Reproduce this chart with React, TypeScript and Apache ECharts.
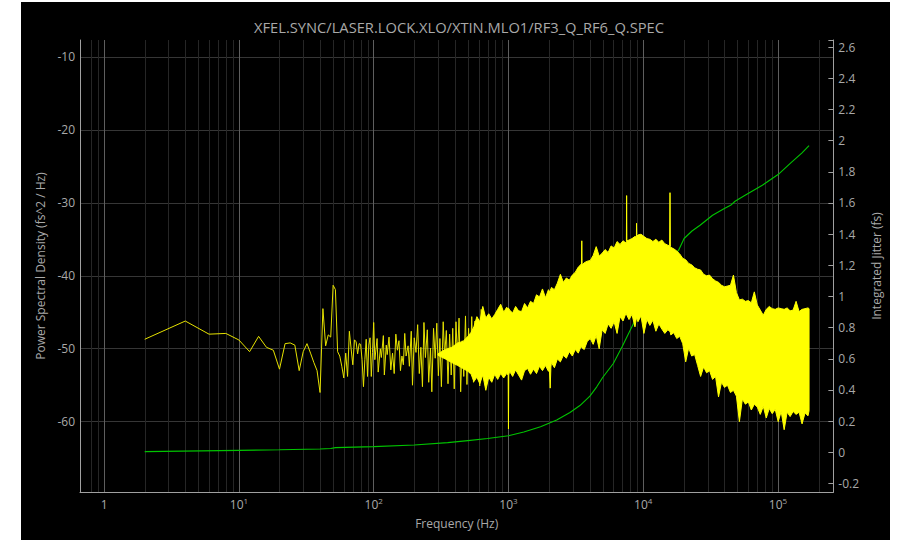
import React, { useEffect, useRef } from 'react';
import * as echarts from 'echarts';

const TITLE = 'XFEL.SYNC/LASER.LOCK.XLO/XTIN.MLO1/RF3_Q_RF6_Q.SPEC';
const X_NAME = 'Frequency (Hz)';
const Y_LEFT_NAME = 'Power Spectral Density (fs^2 / Hz)';
const Y_RIGHT_NAME = 'Integrated Jitter (fs)';

// axis ranges
const X_MIN = 0.662;
const X_MAX = 257500;
const YL_MIN = -69.64;
const YL_MAX = -7.67;
const YR_MIN = -0.255;
const YR_MAX = 2.646;

// PSD, first bins (2 Hz spacing starting at 2 Hz)
const LOW_STEP = 2;
const psdLow = [
  -48.7, -46.2, -48.0, -47.9, -48.8, -50.4, -48.3, -49.8, -50.2, -52.8,
  -49.3, -49.2, -49.5, -53.0, -50.4, -49.3, -50.6, -51.9, -53.0, -56.0,
  -44.5, -49.6, -48.1, -48.4, -41.3, -41.9, -50.4, -51.0, -52.4, -54.0,
  -50.6, -53.8, -47.6, -50.0, -52.2, -48.8, -49.0, -50.7, -49.3, -49.4,
  -51.5, -55.2, -51.5, -48.7, -53.8, -49.5, -48.5, -53.8, -50.5,
];

// PSD, 100 Hz .. 650 Hz (read peaks / dips)
const psdMidFreq = [
  100, 102, 106, 108, 112, 114, 118, 120, 124, 126, 130, 134, 138, 142, 146, 150,
  154, 158, 162, 166, 170, 174, 180, 184, 190, 194, 200, 206, 212, 218, 224, 230,
  236, 242, 250, 256, 264, 270, 278, 286, 294, 302, 310, 318, 328, 336, 346, 356,
  366, 376, 386, 396, 408, 418, 430, 442, 454, 466, 480, 492, 506, 520, 534, 550,
  564, 580, 596, 612, 628, 646,
];
const psdMid = [
  -46.4, -51.5, -48.6, -53.2, -50.0, -51.2, -48.2, -53.6, -49.5, -50.8, -48.4, -52.9, -50.6, -53.4, -48.0, -50.2,
  -48.9, -53.0, -51.0, -52.2, -47.9, -51.0, -49.6, -52.4, -47.6, -55.0, -48.5, -50.5, -46.7, -53.4, -49.8, -55.2,
  -46.4, -51.2, -47.4, -54.6, -49.9, -55.9, -47.2, -51.3, -46.5, -53.7, -48.6, -55.2, -46.3, -51.0, -47.5, -54.8,
  -48.0, -53.6, -47.2, -55.5, -46.3, -51.2, -45.8, -55.9, -48.9, -53.8, -45.5, -54.9, -47.2, -53.4, -45.6, -54.6,
  -46.2, -53.9, -46.0, -55.1, -44.6, -53.8,
];

// PSD dense region: upper and lower envelope
const bandFreq = [
  300, 340, 380, 420, 460, 500,
  526, 554, 583, 613, 645, 679, 714, 752, 791, 832, 876, 922, 970, 995, 1000, 1005,
  1020, 1074, 1130, 1189, 1251, 1317, 1386, 1458, 1534, 1615, 1699, 1788, 1882, 1980, 2010, 2040,
  2065, 2084, 2193, 2307, 2428, 2555, 2689, 2829, 2977, 3133, 3297, 3469, 3480, 3500, 3520, 3651,
  3842, 4043, 4254, 4477, 4711, 4957, 5217, 5489, 5776, 6078, 6396, 6731, 7083, 7453, 7500, 7530,
  7560, 7843, 8253, 8685, 8900, 8920, 8950, 9139, 9617, 10120, 10650, 11207, 11793, 12410, 13059, 13742,
  14460, 15216, 15700, 15800, 15900, 16012, 16849, 17730, 18657, 19633, 20660, 21740, 22877, 24073, 25332, 26657,
  28051, 29518, 31062, 32686, 34396, 36194, 38087, 40079, 42175, 44381, 46702, 49144, 51714, 54418, 57264, 60259,
  63410, 66726, 70215, 73887, 77751, 81817, 86096, 90598, 95336, 100322, 105568, 111089, 116898, 123011, 129444, 136214,
  143337, 150833, 158721, 167021, 170000,
];
const bandHi = [
  -50.7, -50.1, -49.8, -49.2, -49.0, -48.3,
  -47.8, -47.0, -45.6, -46.3, -44.2, -45.8, -45.2, -45.9, -45.3, -44.6, -43.9, -45.0, -44.3, -44.6, -44.4, -44.5,
  -44.7, -45.1, -44.2, -44.8, -44.9, -43.8, -44.4, -43.5, -43.8, -42.6, -42.9, -41.8, -43.0, -41.9, -42.2, -42.0,
  -41.8, -41.6, -41.9, -41.0, -39.8, -40.9, -40.3, -40.6, -39.9, -39.5, -38.8, -38.4, -38.6, -35.2, -38.5, -38.2,
  -38.0, -37.9, -37.2, -36.0, -37.3, -36.9, -36.4, -36.8, -35.9, -36.2, -35.3, -35.7, -35.2, -35.5, -35.3, -29.0,
  -35.2, -35.1, -34.9, -34.6, -34.7, -32.8, -34.6, -34.4, -34.3, -34.6, -34.9, -35.0, -35.3, -35.0, -35.4, -35.1,
  -35.6, -35.8, -35.9, -28.6, -36.0, -36.1, -36.3, -36.6, -37.0, -37.6, -37.8, -38.3, -38.5, -38.9, -39.1, -39.2,
  -39.8, -40.0, -39.9, -40.4, -40.7, -40.9, -41.3, -41.5, -41.4, -41.3, -39.9, -42.3, -43.3, -43.2, -43.5, -43.4,
  -43.7, -42.2, -44.0, -44.7, -45.4, -44.6, -44.2, -44.5, -44.6, -44.4, -44.5, -44.6, -44.4, -44.8, -44.7, -43.5,
  -44.9, -44.6, -44.5, -44.4, -44.5,
];
const bandLo = [
  -50.9, -51.4, -51.9, -52.3, -52.7, -53.1,
  -53.4, -54.5, -53.9, -54.8, -53.6, -55.7, -53.9, -54.6, -53.5, -54.2, -53.4, -54.0, -53.4, -53.6, -61.0, -53.6,
  -53.1, -53.8, -52.9, -53.6, -54.3, -53.0, -52.7, -53.5, -52.8, -53.4, -52.4, -53.0, -52.3, -53.1, -52.6, -55.4,
  -52.5, -51.9, -52.6, -51.4, -51.8, -50.9, -51.3, -50.4, -51.0, -50.1, -50.6, -49.6, -49.8, -49.7, -49.9, -50.1,
  -49.0, -48.6, -49.4, -48.2, -50.0, -47.4, -47.9, -46.6, -47.2, -46.3, -47.9, -45.6, -46.2, -45.1, -45.3, -45.2,
  -45.4, -46.0, -45.3, -47.0, -45.8, -45.7, -45.8, -46.3, -45.5, -47.9, -46.0, -46.8, -46.1, -47.6, -46.6, -47.3,
  -47.9, -47.4, -47.6, -47.7, -47.8, -48.1, -47.8, -48.6, -48.3, -49.3, -51.8, -49.9, -51.0, -50.8, -52.3, -53.8,
  -52.5, -53.3, -53.0, -54.2, -53.8, -56.6, -54.6, -55.3, -55.0, -56.0, -55.7, -56.5, -60.0, -56.9, -57.6, -57.3,
  -58.4, -57.6, -58.0, -59.0, -57.9, -59.5, -58.2, -58.9, -58.3, -60.0, -58.6, -61.1, -58.7, -59.3, -58.6, -59.0,
  -58.7, -60.3, -58.8, -59.2, -58.5,
];

// Integrated jitter (right axis)
const jitterFreq = [
  2, 10, 20, 40, 48, 52, 100, 200, 354, 500, 700, 1000, 1300, 1730, 2280, 2860,
  3390, 4020, 4520, 5000, 6000, 7000, 8500, 10000, 12000, 14000, 16000, 17600, 18300, 20100, 23000, 26400,
  32700, 40000, 44500, 48000, 57000, 76500, 102000, 125000, 150000, 170000,
];
const jitter = [
  0.004, 0.012, 0.016, 0.021, 0.024, 0.030, 0.036, 0.047, 0.062, 0.075, 0.088, 0.106, 0.130, 0.164, 0.207, 0.255,
  0.300, 0.360, 0.420, 0.480, 0.570, 0.680, 0.830, 0.950, 1.080, 1.170, 1.230, 1.280, 1.297, 1.372, 1.420, 1.457,
  1.521, 1.565, 1.585, 1.611, 1.649, 1.714, 1.788, 1.859, 1.920, 1.968,
];

// minor log grid positions
const minorGridFreq = [
  0.8, 0.9,
  2, 3, 4, 5, 6, 7, 8, 9,
  20, 30, 40, 50, 60, 70, 80, 90,
  200, 300, 400, 500, 600, 700, 800, 900,
  2000, 3000, 4000, 5000, 6000, 7000, 8000, 9000,
  20000, 30000, 40000, 50000, 60000, 70000, 80000, 90000,
  200000,
];

const FONT = '"Open Sans", "Noto Sans", sans-serif';
const TXT = '#a9a9a9';
const AXIS_LINE = '#a0a0a0';

export default function App() {
  const ref = useRef<HTMLDivElement>(null);
  useEffect(() => {
    if (!ref.current) return;
    const chart = echarts.init(ref.current, undefined, { renderer: 'svg' });
    const yellowLine = psdLow
      .map((v, i) => [(i + 1) * LOW_STEP, v])
      .concat(psdMidFreq.map((f, i) => [f, psdMid[i]]));
    const option: any = {
      animation: false,
      backgroundColor: '#000000',
      textStyle: { fontFamily: FONT },
      grid: { left: 59, right: 52, top: 38, bottom: 48, containLabel: false },
      graphic: [
        {
          type: 'text',
          x: 438,
          y: 25,
          style: {
            text: TITLE,
            fill: TXT,
            font: `14.7px ${FONT}`,
            textAlign: 'center',
            textVerticalAlign: 'middle',
          },
        },
      ],
      xAxis: {
        type: 'log',
        logBase: 10,
        min: X_MIN,
        max: X_MAX,
        name: X_NAME,
        nameLocation: 'middle',
        nameGap: 25,
        nameTextStyle: { color: TXT, fontSize: 12, fontFamily: FONT },
        axisLine: { show: true, onZero: false, lineStyle: { color: AXIS_LINE, width: 1 } },
        axisTick: { show: false },
        axisLabel: {
          color: TXT,
          fontSize: 12,
          margin: 4,
          fontFamily: FONT,
          showMinLabel: false,
          showMaxLabel: false,
          formatter: (v: number) => {
            const e = Math.log10(v);
            const r = Math.round(e);
            if (Math.abs(e - r) > 1e-6) return '';
            if (r === 0) return '{b|1}';
            return `{b|10}{s|${r}}`;
          },
          rich: {
            b: { color: TXT, fontSize: 12, fontFamily: FONT, lineHeight: 16 },
            s: { color: TXT, fontSize: 8, fontFamily: FONT, verticalAlign: 'top', lineHeight: 10 },
          },
        },
        splitLine: {
          show: true,
          showMinLine: false,
          showMaxLine: false,
          lineStyle: { color: '#5e5e5e', width: 1 },
        },
      },
      yAxis: [
        {
          type: 'value',
          min: YL_MIN,
          max: YL_MAX,
          splitNumber: 5,
          position: 'left',
          name: Y_LEFT_NAME,
          nameLocation: 'middle',
          nameGap: 34,
          nameTextStyle: { color: TXT, fontSize: 12, fontFamily: FONT },
          axisLine: { show: true, onZero: false, lineStyle: { color: AXIS_LINE, width: 1 } },
          axisTick: { show: false },
          axisLabel: {
            color: TXT,
            fontSize: 12,
            margin: 5,
            fontFamily: FONT,
            formatter: (v: number) =>
              Math.abs(v / 10 - Math.round(v / 10)) < 1e-6 ? String(Math.round(v)) : '',
          },
          splitLine: {
            show: true,
            showMinLine: false,
            showMaxLine: false,
            lineStyle: { color: '#363636', width: 1 },
          },
        },
        {
          type: 'value',
          min: YR_MIN,
          max: YR_MAX,
          splitNumber: 14,
          position: 'right',
          name: Y_RIGHT_NAME,
          nameLocation: 'middle',
          nameGap: 32,
          nameTextStyle: { color: TXT, fontSize: 12, fontFamily: FONT },
          axisLine: { show: true, onZero: false, lineStyle: { color: AXIS_LINE, width: 1 } },
          axisTick: { show: true, inside: true, length: 5, lineStyle: { color: AXIS_LINE } },
          axisLabel: {
            color: TXT,
            fontSize: 12,
            margin: 5,
            fontFamily: FONT,
            formatter: (v: number) => {
              const k = v * 5;
              if (Math.abs(k - Math.round(k)) > 1e-6) return '';
              return String(Math.round(v * 10) / 10);
            },
          },
          splitLine: { show: false },
        },
      ],
      series: [
        {
          type: 'custom',
          name: 'minor grid',
          silent: true,
          z: 1,
          xAxisIndex: 0,
          yAxisIndex: 0,
          clip: true,
          data: minorGridFreq.map((f) => [f, YL_MIN]),
          encode: { x: 0, y: 1 },
          renderItem: (params: any, api: any) => {
            const cs = params.coordSys;
            const x = Math.round(api.coord([api.value(0), api.value(1)])[0]) + 0.5;
            return {
              type: 'line',
              shape: { x1: x, y1: cs.y, x2: x, y2: cs.y + cs.height },
              style: { stroke: '#262626', lineWidth: 1 },
            };
          },
        },
        {
          type: 'line',
          name: 'Integrated Jitter',
          z: 2,
          yAxisIndex: 1,
          showSymbol: false,
          symbol: 'none',
          lineStyle: { color: '#00c400', width: 1.1 },
          data: jitterFreq.map((f, i) => [f, jitter[i]]),
        },
        {
          type: 'line',
          name: 'PSD',
          z: 3,
          yAxisIndex: 0,
          showSymbol: false,
          symbol: 'none',
          lineStyle: { color: '#e6e200', width: 1 },
          data: yellowLine,
        },
        {
          type: 'custom',
          name: 'PSD band',
          z: 4,
          xAxisIndex: 0,
          yAxisIndex: 0,
          clip: true,
          data: [[bandFreq[0], bandHi[0]]],
          encode: { x: 0, y: 1 },
          renderItem: (params: any, api: any) => {
            if (params.dataIndex !== 0) return null;
            const top = bandFreq.map((f, i) => api.coord([f, bandHi[i]]));
            const bot = bandFreq.map((f, i) => api.coord([f, bandLo[i]])).reverse();
            return {
              type: 'polygon',
              shape: { points: top.concat(bot) },
              style: { fill: '#ffff00', stroke: '#ffff00', lineWidth: 1, lineJoin: 'miter' },
            };
          },
        },
      ],
    };
    chart.setOption(option);
    return () => {
      chart.dispose();
    };
  }, []);
  return (
    <div
      ref={ref}
      style={{ position: 'absolute', left: 21, top: 2, width: 869, height: 538 }}
    />
  );
}
